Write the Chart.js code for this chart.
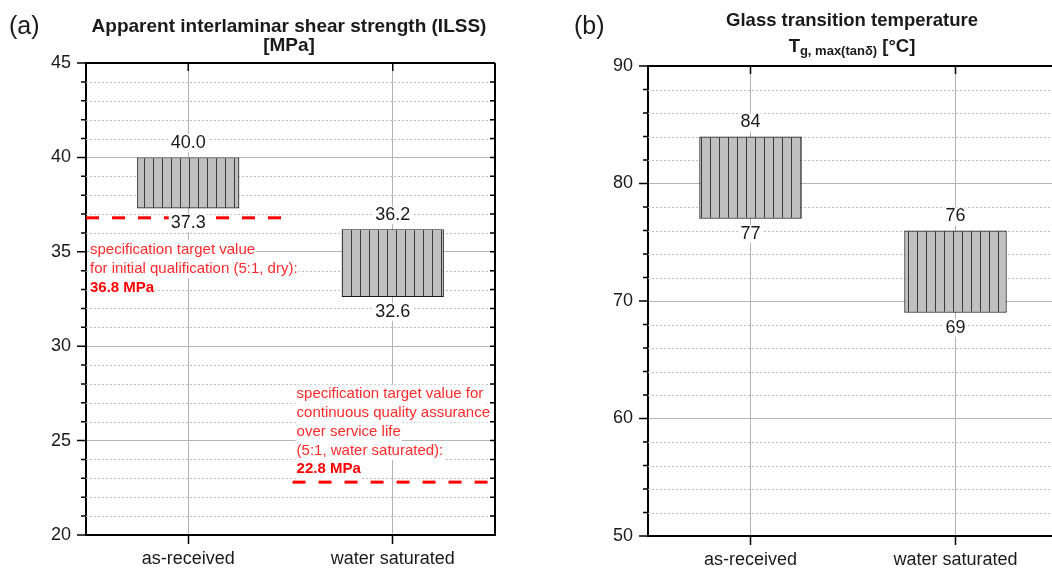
<!DOCTYPE html>
<html>
<head>
<meta charset="utf-8">
<script src="https://cdn.jsdelivr.net/npm/chart.js@4"></script>
<style>
  html, body { margin: 0; padding: 0; background: #fff; overflow: hidden; width: 1052px; height: 572px; }
  #ilss { position: absolute; left: 0; top: 0; }
  #tg { position: absolute; left: 530px; top: 0; }
</style>
</head>
<body>
<canvas id="ilss" width="530" height="572"></canvas>
<canvas id="tg" width="540" height="572"></canvas>
<script>
// data
const categories = ['as-received', 'water saturated'];
const ilssRange = [[37.3, 40.0], [32.6, 36.2]];   // MPa, [low, high]
const tgRange = [[77, 84], [69, 76]];             // °C, [low, high]
const ilssTicks = [20, 25, 30, 35, 40, 45];
const tgTicks = [50, 60, 70, 80, 90];
const ilssTargets = [36.8, 22.8];                 // spec target values

Chart.defaults.font.family = "'Liberation Sans', Arial, sans-serif";
Chart.defaults.color = '#1a1a1a';
Chart.defaults.animation = false;

function hatch() {
  const c = document.createElement('canvas');
  c.width = 9; c.height = 10;
  const g = c.getContext('2d');
  g.fillStyle = '#c0c0c0';
  g.fillRect(0, 0, 9, 10);
  g.fillStyle = '#3a3a3a';
  g.fillRect(0, 0, 1, 10);
  return g.createPattern(c, 'repeat');
}

const FONT = "'Liberation Sans', Arial, sans-serif";

const frame = {
  id: 'frame',
  beforeDatasetsDraw(chart, args, o) {
    const { ctx, chartArea: a, scales: { y } } = chart;
    ctx.save();
    ctx.strokeStyle = '#bdbdbd';
    ctx.lineWidth = 1;
    ctx.setLineDash([2, 2]);
    for (let v = y.min; v <= y.max; v += o.minor) {
      if (v % o.major === 0) continue;
      const py = Math.round(y.getPixelForValue(v)) + 0.5;
      ctx.beginPath(); ctx.moveTo(a.left, py); ctx.lineTo(a.right, py); ctx.stroke();
    }
    ctx.restore();
  },
  afterDatasetsDraw(chart, args, o) {
    const { ctx, scales: { y } } = chart;
    const meta = chart.getDatasetMeta(0);
    const vals = chart.data.datasets[0].data;
    ctx.save();
    ctx.font = '18px ' + FONT;
    ctx.textAlign = 'center';
    ctx.textBaseline = 'middle';
    meta.data.forEach((bar, i) => {
      const top = y.getPixelForValue(vals[i][1]);
      const bot = y.getPixelForValue(vals[i][0]);
      [[vals[i][1], top - 14], [vals[i][0], bot + 15]].forEach(([v, py]) => {
        const t = v.toFixed(o.decimals);
        const w = ctx.measureText(t).width;
        ctx.fillStyle = '#fff';
        ctx.fillRect(bar.x - w / 2 - 2, py - 9, w + 4, 18);
        ctx.fillStyle = '#1a1a1a';
        ctx.fillText(t, bar.x, py);
      });
    });
    // red annotations
    (o.notes || []).forEach(n => {
      const x0 = chart.scales.xl.getPixelForValue(n.x) + 4;
      let py = y.getPixelForValue(n.y) + n.dy;
      ctx.textAlign = 'left';
      n.lines.forEach(([t, bold]) => {
        ctx.font = (bold ? 'bold ' : '') + '15px ' + FONT;
        const w = ctx.measureText(t).width;
        ctx.fillStyle = '#fff';
        ctx.fillRect(x0 - 1, py - 9.5, w + 2, 19);
        ctx.fillStyle = bold ? '#ff0000' : '#ff2a2a';
        ctx.fillText(t, x0, py);
        py += 18.8;
      });
    });
    ctx.restore();
  },
  afterDraw(chart, args, o) {
    const { ctx, chartArea: a, scales: { x, y } } = chart;
    ctx.save();
    ctx.strokeStyle = '#000';
    ctx.lineWidth = 2;
    ctx.beginPath();
    ctx.moveTo(a.left - 1, a.top); ctx.lineTo(a.right, a.top);
    ctx.moveTo(a.right, a.top); ctx.lineTo(a.right, a.bottom + 1);
    ctx.stroke();
    ctx.lineWidth = 1.5;
    ctx.beginPath();
    for (let v = y.min; v <= y.max; v += o.minor) {
      const py = y.getPixelForValue(v);
      const len = v % o.major === 0 ? 9 : 5;
      ctx.moveTo(a.left - len, py); ctx.lineTo(a.left, py);
      ctx.moveTo(a.right - 5, py); ctx.lineTo(a.right, py);
    }
    x.ticks.forEach((t, i) => {
      const px = x.getPixelForTick(i);
      ctx.moveTo(px, a.top); ctx.lineTo(px, a.top + 8);
    });
    ctx.stroke();
    // titles
    ctx.fillStyle = '#1a1a1a';
    ctx.textBaseline = 'middle';
    ctx.textAlign = 'left';
    ctx.font = '25px ' + FONT;
    ctx.fillText(o.tag, o.tagX, 27);
    ctx.font = 'bold ' + o.titleSize + 'px ' + FONT;
    ctx.textAlign = 'center';
    ctx.fillText(o.title[0], o.titleX, o.titleY);
    if (typeof o.title[1] === 'string') {
      ctx.fillText(o.title[1], o.titleX, o.titleY + 19);
    } else {
      ctx.textBaseline = 'alphabetic';
      ctx.textAlign = 'left';
      const segs = o.title[1];
      let w = 0;
      segs.forEach(s => { ctx.font = 'bold ' + s.size + 'px ' + FONT; w += ctx.measureText(s.t).width; });
      let px = o.titleX - w / 2;
      segs.forEach(s => {
        ctx.font = 'bold ' + s.size + 'px ' + FONT;
        ctx.fillText(s.t, px, 52 + (s.dy || 0));
        px += ctx.measureText(s.t).width;
      });
    }
    ctx.restore();
  }
};

function makeChart(id, ranges, ymin, ymax, majorTicks, extra) {
  const datasets = [{
    type: 'bar',
    data: ranges,
    backgroundColor: hatch(),
    borderColor: '#1a1a1a',
    borderWidth: 1.2,
    borderSkipped: false,
    grouped: false,
    barPercentage: 0.5,
    categoryPercentage: 1,
    xAxisID: 'x',
    order: 2
  }].concat(extra.lines || []);
  return new Chart(document.getElementById(id), {
    type: 'bar',
    data: { labels: categories, datasets },
    options: {
      responsive: false,
      layout: { padding: { left: 0, top: extra.top, right: extra.right, bottom: 0 } },
      plugins: { legend: { display: false }, tooltip: { enabled: false }, frame: extra.frame },
      scales: {
        x: {
          type: 'category',
          offset: true,
          afterFit: s => { s.height = extra.xh; },
          grid: { offset: false, color: '#b4b4b4', lineWidth: 1, tickColor: '#000', tickLength: 9, tickWidth: 1.5 },
          border: { color: '#000', width: 2 },
          ticks: { font: { size: 18 }, color: '#1a1a1a', padding: 4 }
        },
        xl: { type: 'linear', min: 0, max: 1, offset: false, display: false },
        y: {
          min: ymin, max: ymax,
          afterFit: s => { s.width = extra.yw; },
          afterBuildTicks: s => { s.ticks = majorTicks.map(v => ({ value: v })); },
          grid: { color: '#b4b4b4', lineWidth: 1, drawTicks: false },
          border: { color: '#000', width: 2 },
          ticks: { font: { size: 18 }, color: '#1a1a1a', padding: 15 }
        }
      }
    },
    plugins: [frame]
  });
}

const dash = (y, a, b) => ({
  type: 'line',
  data: [{ x: a, y }, { x: b, y }],
  xAxisID: 'xl',
  borderColor: '#ff0000',
  borderWidth: 3,
  borderDash: [13, 13],
  pointRadius: 0,
  order: 1
});

makeChart('ilss', ilssRange, 20, 45, ilssTicks, {
  top: 63, right: 35, xh: 37, yw: 86,
  lines: [dash(ilssTargets[0], 0, 0.48), dash(ilssTargets[1], 0.505, 1)],
  frame: {
    minor: 1, major: 5, decimals: 1,
    tag: '(a)', tagX: 9, titleX: 289, titleY: 27, titleSize: 19,
    title: ['Apparent interlaminar shear strength (ILSS)', '[MPa]'],
    notes: [
      { x: 0, y: ilssTargets[0], dy: 32, lines: [['specification target value'], ['for initial qualification (5:1, dry):'], [ilssTargets[0] + ' MPa', true]] },
      { x: 0.505, y: ilssTargets[1], dy: -88, lines: [['specification target value for'], ['continuous quality assurance'], ['over service life'], ['(5:1, water saturated):'], [ilssTargets[1] + ' MPa', true]] }
    ]
  }
});

makeChart('tg', tgRange, 50, 90, tgTicks, {
  top: 66, right: 12, xh: 36, yw: 118,
  frame: {
    minor: 2, major: 10, decimals: 0,
    tag: '(b)', tagX: 44, titleX: 322, titleY: 21, titleSize: 18.5,
    title: ['Glass transition temperature', [{ t: 'T', size: 18.5 }, { t: 'g, max(tanδ)', size: 13, dy: 3 }, { t: ' [°C]', size: 18.5 }]]
  }
});
</script>
</body>
</html>
